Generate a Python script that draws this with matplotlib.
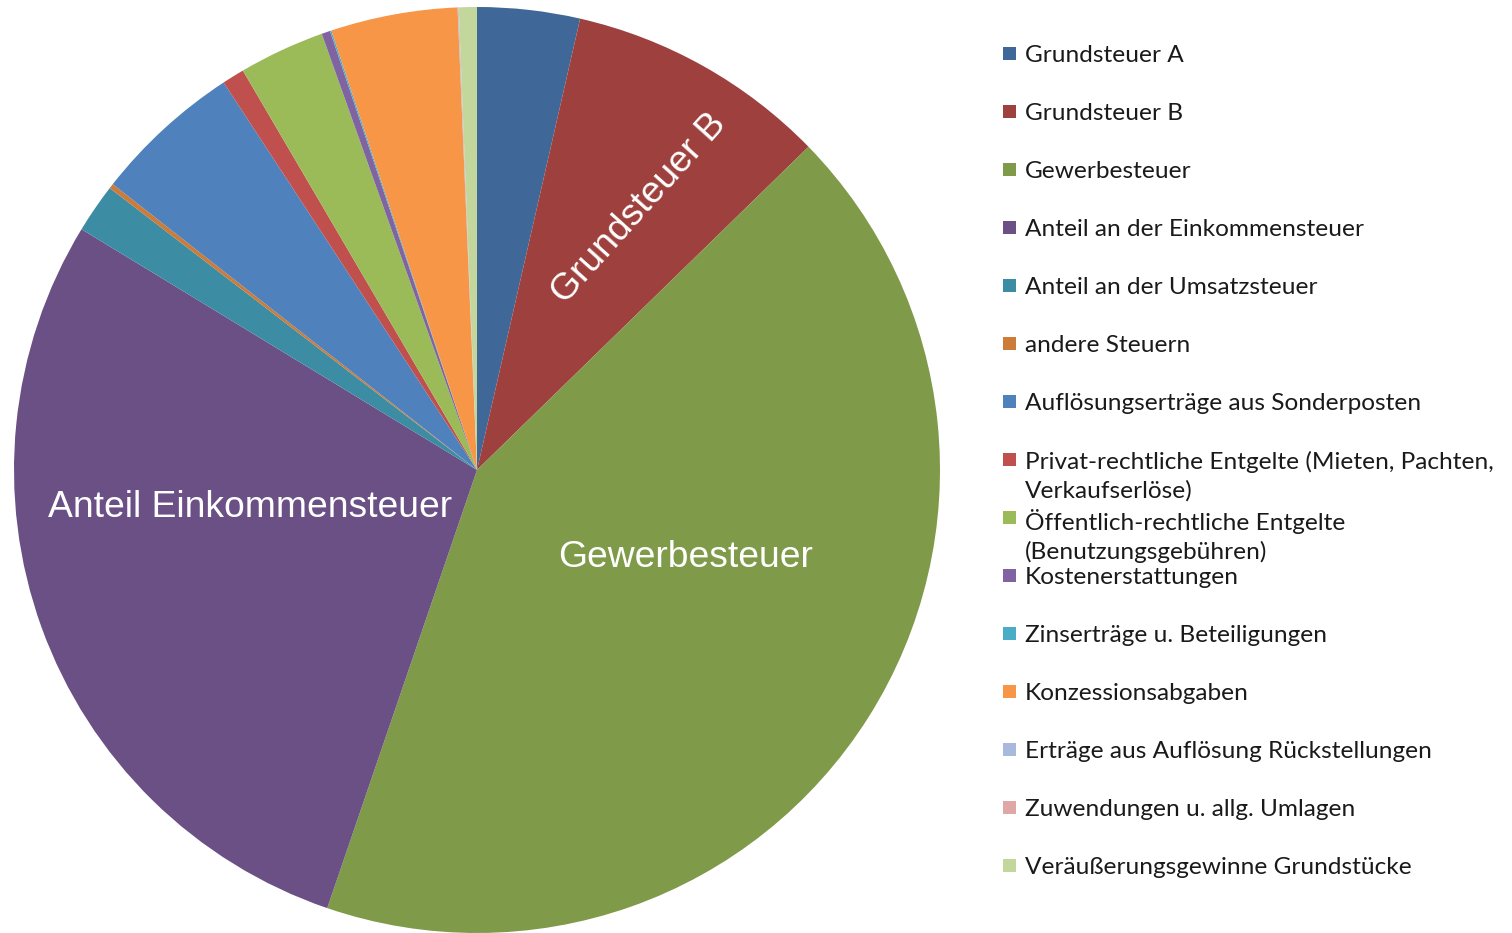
import matplotlib.pyplot as plt
from matplotlib.patches import Rectangle

# categories, shares in percent (clockwise from 12 o'clock)
labels = [
    "Grundsteuer A",
    "Grundsteuer B",
    "Gewerbesteuer",
    "Anteil an der Einkommensteuer",
    "Anteil an der Umsatzsteuer",
    "andere Steuern",
    "Auflösungserträge aus Sonderposten",
    "Privat-rechtliche Entgelte (Mieten, Pachten,\nVerkaufserlöse)",
    "Öffentlich-rechtliche Entgelte\n(Benutzungsgebühren)",
    "Kostenerstattungen",
    "Zinserträge u. Beteiligungen",
    "Konzessionsabgaben",
    "Erträge aus Auflösung Rückstellungen",
    "Zuwendungen u. allg. Umlagen",
    "Veräußerungsgewinne Grundstücke",
]
shares = [3.58, 9.14, 42.6, 28.5, 1.72, 0.17, 5.2, 0.78, 3.0, 0.3, 0.05, 4.43, 0.02, 0.02, 0.63]
colors = ["#3F6797", "#9E413E", "#7F9A48", "#6A5085", "#3C8DA3", "#CC7B38",
          "#4F81BD", "#C0504D", "#9BBB59", "#8064A2", "#4BACC6", "#F79646",
          "#A7B9DD", "#DFA7A6", "#C3D69B"]

# labels written on the big slices
slice_text = {1: "Grundsteuer B", 2: "Gewerbesteuer", 3: "Anteil Einkommensteuer"}

W, H = 1512, 933
fig = plt.figure(figsize=(W / 100, H / 100), dpi=100)

cx, cy, r = 477, 470, 463
ax = fig.add_axes([(cx - r) / W, (H - cy - r) / H, 2 * r / W, 2 * r / H])
wedges, _ = ax.pie(shares, colors=colors, startangle=90, counterclock=False,
                   wedgeprops=dict(linewidth=0))
ax.set_xlim(-1, 1)
ax.set_ylim(-1, 1)
ax.set_aspect("equal")
ax.axis("off")

lab_font = dict(color="white", fontsize=26.8, family=["Liberation Sans", "DejaVu Sans"])
ax.text(0.350, 0.565, slice_text[1], ha="center", va="center", rotation=48, **lab_font)
ax.text(0.451, -0.188, slice_text[2], ha="center", va="center", **lab_font)
ax.text(-0.490, -0.082, slice_text[3], ha="center", va="center", **lab_font)

# legend drawn by hand so two-line entries keep the same slot height
y0, step = 53, 58
for i, (lab, col) in enumerate(zip(labels, colors)):
    y = y0 + i * step
    fig.patches.append(Rectangle((1003 / W, 1 - (y + 7) / H), 13 / W, 13 / H,
                                 transform=fig.transFigure, facecolor=col,
                                 edgecolor="none"))
    fig.text(1025 / W, 1 - (y - 8) / H, lab, ha="left", va="top", fontsize=17.6,
             family=["Lato", "DejaVu Sans"], color="#1a1a1a", linespacing=1.4)

fig.savefig("out.png", dpi=100)
